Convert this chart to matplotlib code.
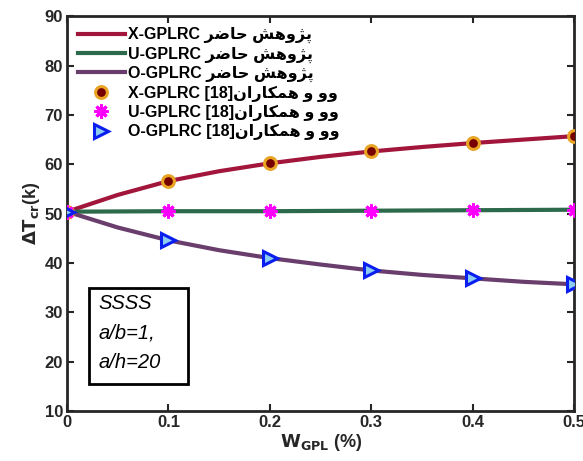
import matplotlib
matplotlib.use("Agg")
import matplotlib.pyplot as plt
from matplotlib.patches import Rectangle

# ---- data ----
w_line = [0.0, 0.05, 0.1, 0.15, 0.2, 0.25, 0.3, 0.35, 0.4, 0.45, 0.5]
x_line = [50.4, 53.8, 56.6, 58.6, 60.2, 61.5, 62.6, 63.5, 64.3, 65.0, 65.7]
u_line = [50.4, 50.45, 50.5, 50.5, 50.5, 50.55, 50.6, 50.65, 50.7, 50.75, 50.8]
o_line = [50.4, 47.2, 44.6, 42.6, 41.0, 39.7, 38.5, 37.6, 36.9, 36.2, 35.7]

w_ref = [0.0, 0.1, 0.2, 0.3, 0.4, 0.5]
x_ref = [50.4, 56.6, 60.2, 62.6, 64.3, 65.7]
u_ref = [50.4, 50.5, 50.5, 50.6, 50.7, 50.8]
o_ref = [50.4, 44.6, 41.0, 38.5, 36.9, 35.7]

# Persian labels (presentation forms, visual order)
present = "\uFEAE\uFEBF\uFE8E\uFEA3 \uFEB6\uFEEB\uFEED\uFB8B\uFB58"   # پژوهش حاضر
wu_etal = "\uFEE5\uFE8D\uFEAD\uFE8E\uFB91\uFEE4\uFEEB \uFEED \uFEED\uFEED"  # وو و همکاران

labels = [
    "X-GPLRC " + present,
    "U-GPLRC " + present,
    "O-GPLRC " + present,
    "X-GPLRC [18]" + wu_etal,
    "U-GPLRC [18]" + wu_etal,
    "O-GPLRC [18]" + wu_etal,
]
xticks = [0, 0.1, 0.2, 0.3, 0.4, 0.5]
xtick_labels = ["0", "0.1", "0.2", "0.3", "0.4", "0.5"]
yticks = [10, 20, 30, 40, 50, 60, 70, 80, 90]
box_lines = ["SSSS", "a/b=1,", "a/h=20"]

plt.rcParams['font.family'] = ['Liberation Sans', 'DejaVu Sans']

fig = plt.figure(figsize=(5.83, 4.61), dpi=100)
ax = fig.add_axes([0.115, 0.108, 0.870, 0.857])

ax.plot(w_line, x_line, color='#a3163c', lw=3, label=labels[0], zorder=2)
ax.plot(w_line, u_line, color='#2d6a4b', lw=3, label=labels[1], zorder=2)
ax.plot(w_line, o_line, color='#6a3e6c', lw=3, label=labels[2], zorder=2)

ax.plot(w_ref, x_ref, ls='none', marker='o', ms=8.5, mfc='#760000',
        mec='#e8a423', mew=2.2, label=labels[3], zorder=3)
ax.plot(w_ref, u_ref, ls='none', marker=(8, 2, 0), ms=10, mec='#ff00ff',
        mfc='#ff00ff', mew=2.2, label=labels[4], zorder=3)
ax.plot(w_ref, o_ref, ls='none', marker='>', ms=9.5, mfc='#8ccdf0',
        mec='#0a1ef0', mew=2.2, label=labels[5], zorder=3)

ax.set_xlim(0, 0.5)
ax.set_ylim(10, 90)
ax.set_xticks(xticks)
ax.set_xticklabels(xtick_labels)
ax.set_yticks(yticks)
for lab in ax.get_xticklabels() + ax.get_yticklabels():
    lab.set_fontweight('bold')
    lab.set_fontsize(12)
    lab.set_color('#262626')
ax.tick_params(direction='in', length=5, width=1.5, top=True, right=True,
               colors='#262626', pad=3)
for s in ax.spines.values():
    s.set_linewidth(2)
    s.set_color('#262626')

ax.set_xlabel(r'$\mathbf{W_{GPL}}$' + ' (%)', fontsize=13, fontweight='bold',
              color='#262626', labelpad=1)
ax.set_ylabel(r'$\mathbf{\Delta T_{cr}}$' + '(k)', fontsize=13, fontweight='bold',
              color='#262626', labelpad=2)

leg = ax.legend(loc='upper left', frameon=False,
                prop={'weight': 'bold', 'size': 11.5}, handlelength=2.9,
                borderaxespad=0.3, labelspacing=0.2, handletextpad=0.2)

# info box
ax.add_patch(Rectangle((0.0217, 15.6), 0.0977, 19.3, transform=ax.transData,
                       fill=False, lw=2, ec='black', zorder=4))
for i, t in enumerate(box_lines):
    ax.text(0.031, 30.7 - i * 6.0, t, fontsize=14.5, style='italic',
            va='baseline', ha='left', zorder=5)

fig.savefig('out.png', dpi=100)
